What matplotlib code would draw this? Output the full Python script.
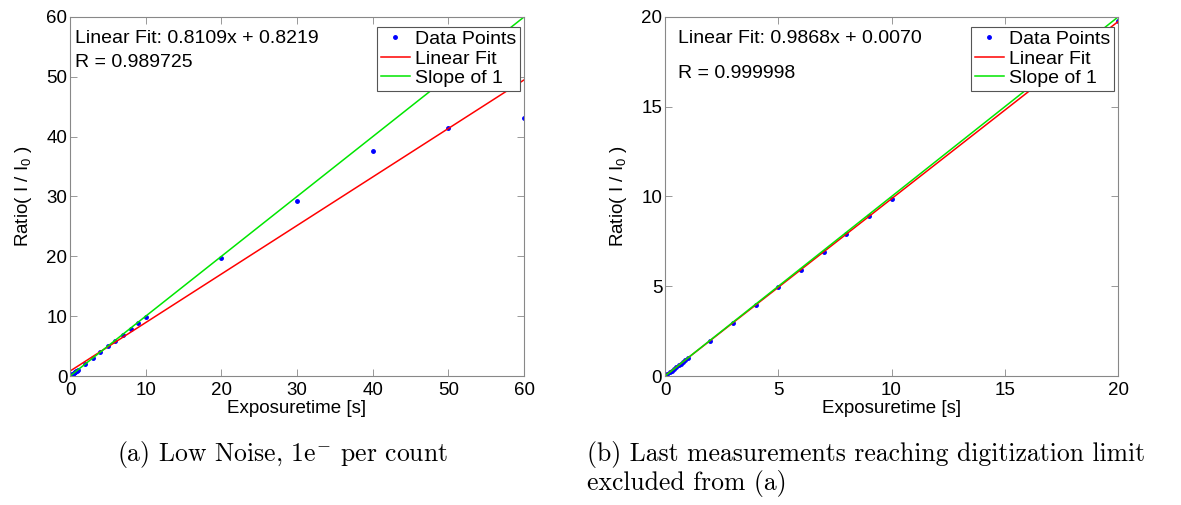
import matplotlib.pyplot as plt
import numpy as np

plt.rcParams['font.family'] = ['Liberation Sans', 'DejaVu Sans']
plt.rcParams['mathtext.fontset'] = 'custom'
plt.rcParams['mathtext.rm'] = 'Liberation Sans'
plt.rcParams['mathtext.it'] = 'Liberation Sans'

# (a) all exposures
exp_a = [0.1, 0.2, 0.3, 0.4, 0.5, 0.6, 0.7, 0.8, 0.9, 1, 2, 3, 4, 5, 6, 7, 8, 9, 10,
         20, 30, 40, 50, 60]
ratio_a = [0.1, 0.2, 0.3, 0.4, 0.5, 0.59, 0.69, 0.79, 0.89, 0.99, 1.97, 2.96, 3.95,
           4.94, 5.93, 6.92, 7.9, 8.89, 9.87, 19.7, 29.3, 37.6, 41.5, 43.1]
fit_a = (0.8109, 0.8219)
r_a = 0.989725

# (b) saturated exposures removed
exp_b = [0.1, 0.2, 0.3, 0.4, 0.5, 0.6, 0.7, 0.8, 0.9, 1, 2, 3, 4, 5, 6, 7, 8, 9, 10, 20]
ratio_b = [0.1, 0.2, 0.3, 0.4, 0.5, 0.59, 0.69, 0.79, 0.89, 0.99, 1.97, 2.96, 3.95,
           4.94, 5.93, 6.92, 7.9, 8.89, 9.87, 19.75]
fit_b = (0.9868, 0.0070)
r_b = 0.999998

fig = plt.figure(figsize=(11.81, 5.05), dpi=100)
ax1 = fig.add_axes([0.0593, 0.2554, 0.3844, 0.711])
ax2 = fig.add_axes([0.5631, 0.2554, 0.3836, 0.711])


def panel(ax, x, y, fit, r, lim, step, tx, ty2):
    xx = np.array([0, lim])
    ax.plot(x, y, '.', color='blue', markersize=5, label='Data Points')
    ax.plot(xx, fit[0] * xx + fit[1], color='red', lw=1.1, label='Linear Fit')
    ax.plot(xx, xx, color='#00e600', lw=1.1, label='Slope of 1')
    ax.set_xlim(0, lim)
    ax.set_ylim(0, lim)
    ax.set_xticks(np.arange(0, lim + 1, step))
    ax.set_yticks(np.arange(0, lim + 1, step))
    ax.tick_params(direction='in', top=True, right=True, labelsize=13.5,
                   length=5, width=0.6, color='#888888')
    ax.tick_params(axis='x', pad=4)
    ax.tick_params(axis='y', pad=2)
    for s in ax.spines.values():
        s.set_color('#888888')
        s.set_linewidth(0.8)
    ax.set_xlabel('Exposuretime [s]', fontsize=13.5, labelpad=1)
    ax.set_ylabel('Ratio( I / I$_0$ )', fontsize=13.5, labelpad=9)
    ax.text(tx, 0.9276, 'Linear Fit: %.4fx + %.4f' % fit, transform=ax.transAxes,
            fontsize=14, va='baseline')
    ax.text(tx, ty2, 'R = %.6f' % r, transform=ax.transAxes,
            fontsize=14, va='baseline')
    leg = ax.legend(loc='upper right', bbox_to_anchor=(0.991, 0.973), fontsize=14,
                    fancybox=False, framealpha=1, edgecolor='#555555',
                    handlelength=1.5, handletextpad=0.25, labelspacing=0.1,
                    borderpad=0.2, borderaxespad=0)
    leg.get_frame().set_linewidth(0.8)


panel(ax1, exp_a, ratio_a, fit_a, r_a, 60, 10, 0.011, 0.8607)
panel(ax2, exp_b, ratio_b, fit_b, r_b, 20, 5, 0.029, 0.829)

plt.rcParams['font.serif'] = ['cmr10']
cap_font = dict(fontsize=18.5, family='serif', math_fontfamily='cm', va='baseline')
fig.text(0.099, 0.0877, '(a) Low Noise, 1e$^{-}$ per count', ha='left', **cap_font)
fig.text(0.497, 0.0877, '(b) Last measurements reaching digitization limit',
         ha='left', **cap_font)
fig.text(0.497, 0.0297, 'excluded from (a)', ha='left', **cap_font)

fig.savefig('out.png', dpi=100)
